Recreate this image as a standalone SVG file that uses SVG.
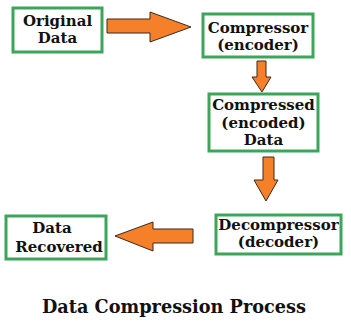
<svg xmlns="http://www.w3.org/2000/svg" width="351" height="324" viewBox="0 0 351 324">
<style>
.box{fill:#fff;stroke:#3ca55c;stroke-width:3}
.arr{fill:#f6802a;stroke:#3a2a1a;stroke-width:1}
.t{font-family:"DejaVu Serif","Liberation Serif",serif;font-weight:bold;font-size:15px;fill:#111;text-anchor:middle}
.title{font-family:"DejaVu Serif","Liberation Serif",serif;font-weight:bold;font-size:17.7px;fill:#111;text-anchor:middle}
</style>
<rect width="351" height="324" fill="#fff"/>
<g id="connectors">
<polygon class="arr" points="107,19 150,19 150,12 191,27 150,42 150,33 107,33"/>
<polygon class="arr" points="257,61 266,61 266,77 271,77 262,92 252,77 257,77"/>
<polygon class="arr" points="263,157 274,157 274,180 278,180 266,201 254,180 263,180"/>
<polygon class="arr" points="193,229 153,229 153,222 115,236 153,251 153,243 193,243"/>
</g>
<g id="original-data">
<rect class="box" x="13" y="8" width="89" height="44"/>
<text class="t" x="57.500" y="26">Original</text>
<text class="t" x="57.500" y="43">Data</text>
</g>
<g id="compressor">
<rect class="box" x="203" y="14" width="110" height="43"/>
<text class="t" x="258" y="33">Compressor</text>
<text class="t" x="258" y="50">(encoder)</text>
</g>
<g id="compressed-data">
<rect class="box" x="209" y="94" width="109" height="57"/>
<text class="t" x="263.500" y="110">Compressed</text>
<text class="t" x="263.500" y="128">(encoded)</text>
<text class="t" x="263.500" y="145">Data</text>
</g>
<g id="decompressor">
<rect class="box" x="216" y="215" width="125" height="39"/>
<text class="t" x="278.500" y="230">Decompressor</text>
<text class="t" x="278.500" y="247">(decoder)</text>
</g>
<g id="data-recovered">
<rect class="box" x="6" y="216" width="100" height="43"/>
<text class="t" x="52" y="233">Data</text>
<text class="t" x="59" y="252">Recovered</text>
</g>
<text class="title" x="174" y="313">Data Compression Process</text>
</svg>
